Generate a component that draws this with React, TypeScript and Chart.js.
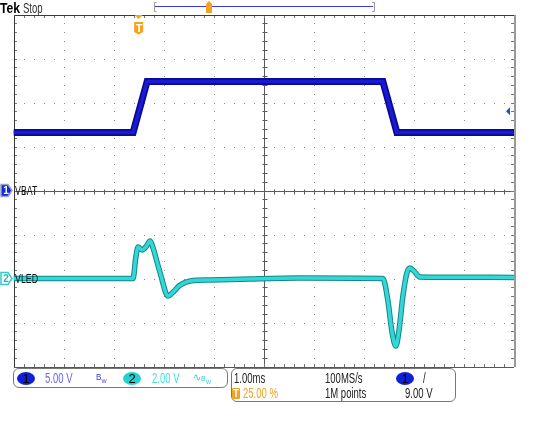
import React, { useEffect, useRef } from 'react';
import { Chart, registerables } from 'chart.js';
Chart.register(...registerables);

// Horizontal: 1.00 ms/div, 10 divisions; trigger at 25 %
const X_MIN_MS = 0;
const X_MAX_MS = 10;
const Y_DIVS = 4;
const TRIGGER_TIME_MS = 2.5;
const TRIGGER_LEVEL_V = 9;

// Channel 1 (VBAT): 5.00 V/div, ground at centre
const CH1_V_PER_DIV = 5;
const CH1_OFFSET_DIV = 0;
const ch1TimeMs = [0, 2.39, 2.67, 7.38, 7.66, 10];
const ch1Volts = [6.6, 6.6, 12.4, 12.4, 6.6, 6.6];

// Channel 2 (VLED): 2.00 V/div, ground two divisions below centre
const CH2_V_PER_DIV = 2;
const CH2_OFFSET_DIV = -2;
const ch2TimeMs = [0, 2.39, 2.44, 2.49, 2.57, 2.65, 2.73, 2.78, 2.93, 3.09, 3.17, 3.33, 3.53, 3.93, 4.72, 5.72, 7.38, 7.48, 7.56, 7.64, 7.7, 7.78, 7.86, 7.92, 8.0, 8.12, 8.52, 10];
const ch2Volts = [0, 0, 0.9, 1.43, 1.3, 1.45, 1.7, 1.45, 0.25, -0.8, -0.66, -0.3, -0.11, -0.07, -0.02, 0.02, 0, -1.0, -2.4, -3.07, -2.4, -0.8, 0.25, 0.48, 0.34, 0.07, 0.06, 0.05];

const FONT = '"Liberation Sans", Arial, sans-serif';

const toPts = (t: number[], v: number[], vpd: number, off: number) =>
  t.map((tt, i) => ({ x: tt, y: v[i] / vpd + off }));

const scopePlugin = {
  id: 'scopeGrid',
  beforeDatasetsDraw(chart: any) {
    const { ctx, chartArea: a, scales } = chart;
    const x = scales.x, y = scales.y;
    const L = Math.round(a.left), R = Math.round(a.right), T = Math.round(a.top), B = Math.round(a.bottom);
    ctx.save();
    ctx.fillStyle = '#888';
    for (let i = 1; i < 10; i++) {
      if (i === 5) continue;
      const px = Math.round(x.getPixelForValue(i));
      for (let k = -20; k <= 20; k++) {
        const py = Math.round(y.getPixelForValue(k * 0.2));
        ctx.fillRect(px, py, 1, 1);
      }
    }
    for (let j = -3; j <= 3; j++) {
      if (j === 0) continue;
      const py = Math.round(y.getPixelForValue(j));
      for (let k = 0; k <= 50; k++) {
        const px = Math.round(x.getPixelForValue(k * 0.2));
        ctx.fillRect(px, py, 1, 1);
      }
    }
    const cx = Math.round(x.getPixelForValue(5)) + 0.5;
    const cy = Math.round(y.getPixelForValue(0)) + 0.5;
    ctx.strokeStyle = '#5a5a5a';
    ctx.lineWidth = 1;
    ctx.beginPath();
    ctx.moveTo(cx, T); ctx.lineTo(cx, B);
    ctx.moveTo(L, cy); ctx.lineTo(R, cy);
    for (let k = -20; k <= 20; k++) {
      const py = Math.round(y.getPixelForValue(k * 0.2)) + 0.5;
      ctx.moveTo(cx - 2, py); ctx.lineTo(cx + 3, py);
    }
    for (let k = 0; k <= 50; k++) {
      const px = Math.round(x.getPixelForValue(k * 0.2)) + 0.5;
      ctx.moveTo(px, cy - 2); ctx.lineTo(px, cy + 3);
    }
    ctx.stroke();
    ctx.strokeStyle = '#777';
    ctx.beginPath();
    for (let k = 0; k <= 50; k++) {
      const px = Math.round(x.getPixelForValue(k * 0.2)) + 0.5;
      ctx.moveTo(px, T); ctx.lineTo(px, T + 3);
      ctx.moveTo(px, B); ctx.lineTo(px, B - 3);
    }
    for (let k = -20; k <= 20; k++) {
      const py = Math.round(y.getPixelForValue(k * 0.2)) + 0.5;
      ctx.moveTo(L, py); ctx.lineTo(L + 3, py);
      ctx.moveTo(R, py); ctx.lineTo(R - 3, py);
    }
    ctx.stroke();
    ctx.strokeStyle = '#3a3a3a';
    ctx.beginPath();
    ctx.moveTo(L + 0.5, B);
    ctx.lineTo(L + 0.5, T + 0.5);
    ctx.lineTo(R, T + 0.5);
    ctx.stroke();
    ctx.strokeStyle = '#9a9a9a';
    ctx.lineWidth = 2;
    ctx.beginPath();
    ctx.moveTo(R + 1, T); ctx.lineTo(R + 1, B);
    ctx.stroke();
    ctx.strokeStyle = '#555';
    ctx.lineWidth = 1;
    ctx.beginPath();
    ctx.moveTo(L, B + 0.5); ctx.lineTo(R, B + 0.5);
    ctx.stroke();
    ctx.restore();
  },
  afterDatasetsDraw(chart: any) {
    const { ctx, chartArea: a, scales } = chart;
    const x = scales.x, y = scales.y;
    ctx.save();
    const tx = x.getPixelForValue(TRIGGER_TIME_MS);
    const top = Math.round(a.top);
    ctx.fillStyle = '#f5a21f';
    ctx.beginPath();
    ctx.moveTo(tx - 4, top); ctx.lineTo(tx + 4, top); ctx.lineTo(tx, top + 4); ctx.closePath();
    ctx.fill();
    ctx.beginPath();
    ctx.moveTo(tx - 4.5, top + 7); ctx.lineTo(tx + 4.5, top + 7); ctx.lineTo(tx + 4.5, top + 17);
    ctx.lineTo(tx, top + 19.5); ctx.lineTo(tx - 4.5, top + 17); ctx.closePath();
    ctx.fill();
    const ly = y.getPixelForValue(TRIGGER_LEVEL_V / CH1_V_PER_DIV + CH1_OFFSET_DIV);
    const r = a.right;
    ctx.fillStyle = '#2a44e8';
    ctx.beginPath();
    ctx.moveTo(r - 8, ly); ctx.lineTo(r - 4, ly - 4); ctx.lineTo(r - 4, ly + 4); ctx.closePath();
    ctx.fill();
    const g1 = y.getPixelForValue(CH1_OFFSET_DIV);
    const g2 = y.getPixelForValue(CH2_OFFSET_DIV);
    const badge = (gy: number, fill: string, stroke: string) => {
      ctx.beginPath();
      ctx.moveTo(1, gy - 6); ctx.lineTo(8, gy - 6); ctx.lineTo(12, gy); ctx.lineTo(8, gy + 6); ctx.lineTo(1, gy + 6); ctx.closePath();
      ctx.fillStyle = fill; ctx.fill();
      ctx.strokeStyle = stroke; ctx.lineWidth = 1.5; ctx.stroke();
    };
    badge(g1, '#1428d8', '#9aa0c8');
    badge(g2, '#ffffff', '#33cccc');
    // record view bar
    ctx.strokeStyle = '#3a3ae8';
    ctx.lineWidth = 1;
    ctx.beginPath(); ctx.moveTo(155, 6.5); ctx.lineTo(373, 6.5); ctx.stroke();
    ctx.strokeStyle = '#999';
    ctx.beginPath();
    ctx.moveTo(156.5, 2.5); ctx.lineTo(154.5, 2.5); ctx.lineTo(154.5, 11.5); ctx.lineTo(156.5, 11.5);
    ctx.moveTo(372, 2.5); ctx.lineTo(374.5, 2.5); ctx.lineTo(374.5, 11.5); ctx.lineTo(372, 11.5);
    ctx.stroke();
    ctx.fillStyle = '#f5a21f';
    ctx.fillRect(206, 4, 6, 9);
    ctx.beginPath(); ctx.moveTo(206, 4); ctx.lineTo(212, 4); ctx.lineTo(209, 1); ctx.closePath(); ctx.fill();
    ctx.restore();
  },
};

function Txt(p: { x: number; y: number; size: number; color: string; bold?: boolean; sx?: number; children: any }) {
  return (
    <div style={{ position: 'absolute', left: p.x, top: p.y - p.size / 2, fontSize: p.size, lineHeight: `${p.size}px`, color: p.color, fontFamily: FONT, fontWeight: p.bold ? 700 : 400, whiteSpace: 'nowrap', transform: `scaleX(${p.sx ?? 0.68})`, transformOrigin: 'left center' }}>
      {p.children}
    </div>
  );
}

function Circ(p: { x: number; y: number; bg: string; children: any }) {
  return (
    <div style={{ position: 'absolute', left: p.x - 9, top: p.y - 6.5, width: 18, height: 13, borderRadius: '50%', background: p.bg, color: '#000', fontFamily: FONT, fontSize: 13, lineHeight: '13px', textAlign: 'center' }}>
      {p.children}
    </div>
  );
}

export default function App() {
  const ref = useRef<HTMLCanvasElement>(null);
  useEffect(() => {
    const c1 = toPts(ch1TimeMs, ch1Volts, CH1_V_PER_DIV, CH1_OFFSET_DIV);
    const c2 = toPts(ch2TimeMs, ch2Volts, CH2_V_PER_DIV, CH2_OFFSET_DIV);
    const c = new Chart(ref.current!, {
      type: 'line',
      data: {
        datasets: [
          { data: c1, borderColor: '#0a0a96', borderWidth: 7, pointRadius: 0, tension: 0, order: 4 },
          { data: c1, borderColor: '#1a1ad2', borderWidth: 3.5, pointRadius: 0, tension: 0, order: 3 },
          { data: c2, borderColor: '#168686', borderWidth: 5.5, pointRadius: 0, cubicInterpolationMode: 'monotone', order: 2 },
          { data: c2, borderColor: '#32d8d8', borderWidth: 3.5, pointRadius: 0, cubicInterpolationMode: 'monotone', order: 1 },
        ],
      },
      options: {
        animation: false,
        responsive: false,
        events: [],
        layout: { padding: { left: 13.5, top: 14.5, right: 19, bottom: 54.5 } },
        plugins: { legend: { display: false }, tooltip: { enabled: false } },
        scales: {
          x: { type: 'linear', min: X_MIN_MS, max: X_MAX_MS, display: false },
          y: { type: 'linear', min: -Y_DIVS, max: Y_DIVS, display: false },
        },
      },
      plugins: [scopePlugin],
    });
    return () => c.destroy();
  }, []);

  return (
    <div style={{ position: 'fixed', left: 0, top: 0, width: 533, height: 421, background: '#fff', overflow: 'hidden' }}>
      <canvas ref={ref} width={533} height={421} style={{ position: 'absolute', left: 0, top: 0 }} />
      <Txt x={0} y={8} size={14} color="#000" bold sx={0.87}>Tek</Txt>
      <Txt x={23} y={8} size={14} color="#333" sx={0.68}>Stop</Txt>
      <div style={{ position: 'absolute', left: 134.5, top: 22, width: 9, height: 12, fontFamily: FONT, fontSize: 11, lineHeight: '12px', color: '#fff', textAlign: 'center', fontWeight: 700 }}>T</div>
      <div style={{ position: 'absolute', left: 2, top: 184.5, width: 8, fontFamily: FONT, fontSize: 10, lineHeight: '12px', color: '#fff', textAlign: 'center', fontWeight: 700 }}>1</div>
      <div style={{ position: 'absolute', left: 2, top: 272.5, width: 8, fontFamily: FONT, fontSize: 10, lineHeight: '12px', color: '#22bbbb', textAlign: 'center', fontWeight: 700 }}>2</div>
      <Txt x={15} y={190} size={13} color="#111">VBAT</Txt>
      <Txt x={15} y={278} size={13} color="#111">VLED</Txt>

      <div style={{ position: 'absolute', left: 13, top: 368, width: 213, height: 18, border: '1px solid #777', borderRadius: 6 }} />
      <Circ x={26} y={378} bg="#1020d8">1</Circ>
      <Txt x={45} y={378} size={14} color="#6868f0">5.00 V</Txt>
      <Txt x={96} y={377} size={9} color="#3a3ae8" sx={0.9}>B<sub style={{ fontSize: 6 }}>W</sub></Txt>
      <Circ x={132} y={378} bg="#22d2d2">2</Circ>
      <Txt x={152} y={378} size={14} color="#44e0e0">2.00 V</Txt>
      <Txt x={193} y={377} size={11} color="#33cccc" sx={0.9}>∿<span style={{ fontSize: 8 }}>B<sub style={{ fontSize: 6 }}>W</sub></span></Txt>

      <div style={{ position: 'absolute', left: 231, top: 368, width: 223, height: 32, border: '1px solid #777', borderRadius: 6 }} />
      <Txt x={234} y={378} size={14} color="#222">1.00ms</Txt>
      <Txt x={325} y={378} size={14} color="#222">100MS/s</Txt>
      <Circ x={405} y={378} bg="#1020d8">1</Circ>
      <Txt x={423} y={378} size={14} color="#222">/</Txt>
      <div style={{ position: 'absolute', left: 232, top: 388, width: 8, height: 11, background: '#f5a21f', borderRadius: 1, color: '#fff', fontFamily: FONT, fontSize: 10, lineHeight: '11px', textAlign: 'center', fontWeight: 700 }}>T</div>
      <Txt x={243} y={393} size={14} color="#f5a21f">25.00 %</Txt>
      <Txt x={325} y={393} size={14} color="#222">1M points</Txt>
      <Txt x={405} y={393} size={14} color="#222">9.00 V</Txt>
    </div>
  );
}
